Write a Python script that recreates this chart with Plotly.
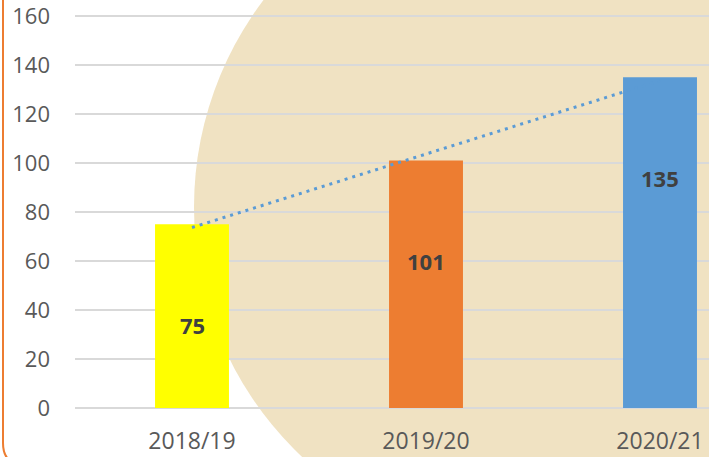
import numpy as np
import plotly.graph_objects as go

categories = ["2018/19", "2019/20", "2020/21"]
values = [75, 101, 135]
bar_colors = ["#FFFF00", "#ED7D31", "#5B9BD5"]
y_ticks = [0, 20, 40, 60, 80, 100, 120, 140, 160]

W, H = 709, 457
UNIT = 2.45               # pixels per value unit
Y0_PX = 408               # pixel row of value 0
YMAX = 160 + 2 / UNIT     # small headroom so the 160 tick is kept
ML, MR = 75, 0
MB = H - Y0_PX
MT = Y0_PX - YMAX * UNIT
PW, PH = W - ML - MR, H - MT - MB


def px(x):
    return (x - ML) / PW


def py(y):
    return (H - MB - y) / PH


# linear trendline from data
coef = np.polyfit(np.arange(len(values)), values, 1)
trend = list(np.polyval(coef, np.arange(len(values))))

fig = go.Figure()

fig.add_trace(go.Bar(
    x=categories, y=values, marker=dict(color=bar_colors, line=dict(width=0)),
    width=0.316, showlegend=False,
))

fig.add_trace(go.Scatter(
    x=categories, y=trend, mode="lines",
    line=dict(color="#5B9BD5", width=3, dash="3px,5px"),
    hoverinfo="skip", showlegend=False,
))

xr = [-0.5, -0.5 + PW / 234.0]
font_fam = "Open Sans"

fig.update_layout(
    width=W, height=H,
    margin=dict(l=ML, r=MR, t=MT, b=MB, pad=0),
    paper_bgcolor="white",
    plot_bgcolor="rgba(0,0,0,0)",
    xaxis=dict(type="category", range=xr, showgrid=False, zeroline=False,
               showline=False, ticks="", tickfont=dict(family=font_fam, size=23, color="#595959"),
               ticklabelstandoff=17, ticklabeloverflow="allow"),
    yaxis=dict(range=[0, YMAX], tickvals=y_ticks, showgrid=True, gridcolor="#D9D9D9",
               gridwidth=2, zeroline=True, zerolinecolor="#D9D9D9", zerolinewidth=2,
               showline=False, ticks="", ticklabelstandoff=24, ticklabeloverflow="allow",
               tickfont=dict(family=font_fam, size=22, color="#595959")),
)

# beige circular background
cx, cy, r = 537, 207, 343
fig.add_shape(type="circle", xref="paper", yref="paper",
              x0=px(cx - r), x1=px(cx + r), y0=py(cy + r), y1=py(cy - r),
              fillcolor="#F0E2C2", line=dict(width=0), layer="below")

# orange rounded border
path = (f"M {px(3)},{py(-10)} L {px(3)},{py(443)} "
        f"Q {px(3)},{py(465)} {px(25)},{py(465)} L {px(800)},{py(465)}")
fig.add_shape(type="path", xref="paper", yref="paper", path=path,
              line=dict(color="#ED7D31", width=2), layer="above")

for c, v in zip(categories, values):
    fig.add_annotation(x=c, y=v - 41, xref="x", yref="y", text=f"<b>{v}</b>",
                       showarrow=False,
                       font=dict(family=font_fam, size=22, color="#404040"))

fig.write_html("out.html", config={"displayModeBar": False},
               post_script="document.body.style.margin='0';")
